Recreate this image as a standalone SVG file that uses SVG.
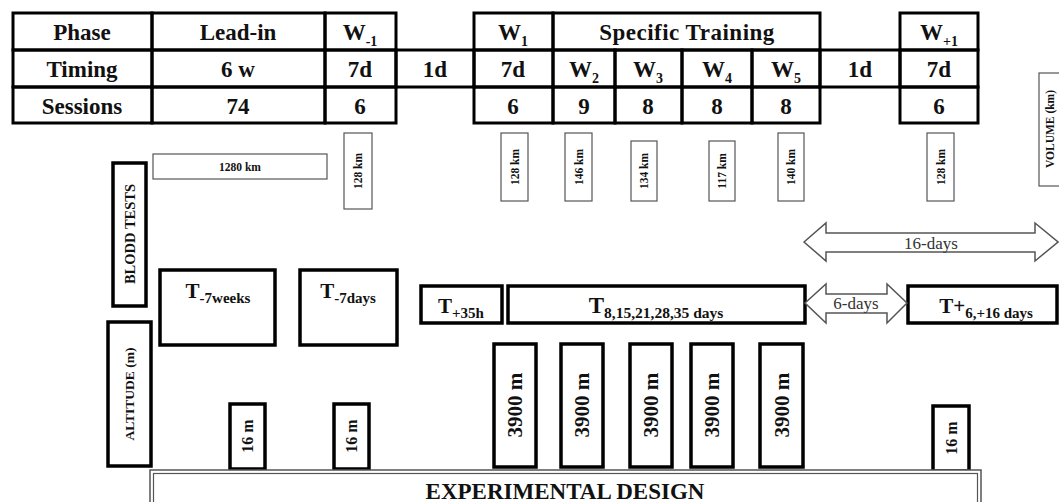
<svg xmlns="http://www.w3.org/2000/svg" width="1059" height="502" viewBox="0 0 1059 502">
<style>
.cell{fill:none;stroke:#000;stroke-width:3}
.tb{font-family:"Liberation Serif","Times New Roman",serif;font-weight:bold;font-size:23px;text-anchor:middle;fill:#111}
.vol{fill:#fff;stroke:#555;stroke-width:1.2}
.vt{font-family:"Liberation Serif","Times New Roman",serif;font-weight:bold;font-size:11.5px;text-anchor:middle;fill:#111}
.box{fill:#fff;stroke:#000;stroke-width:3.5}
.lbl{font-family:"Liberation Serif","Times New Roman",serif;font-weight:bold;text-anchor:middle;fill:#111}
.arrow{fill:#fff;stroke:#555;stroke-width:1.5}
.at{font-family:"Liberation Serif","Times New Roman",serif;font-size:17px;text-anchor:middle;fill:#333}
</style>
<rect width="1059" height="502" fill="#fff"/>

<g id="table">
  <rect class="cell" x="13" y="13" width="139" height="37"/>
  <rect class="cell" x="152" y="13" width="173" height="37"/>
  <rect class="cell" x="325" y="13" width="71" height="37"/>
  <rect class="cell" x="474" y="13" width="79" height="37"/>
  <rect class="cell" x="553" y="13" width="267" height="37"/>
  <rect class="cell" x="900" y="13" width="78" height="37"/>

  <rect class="cell" x="13" y="50" width="139" height="37"/>
  <rect class="cell" x="152" y="50" width="173" height="37"/>
  <rect class="cell" x="325" y="50" width="71" height="37"/>
  <rect class="cell" x="396" y="50" width="78" height="37"/>
  <rect class="cell" x="474" y="50" width="79" height="37"/>
  <rect class="cell" x="553" y="50" width="62" height="37"/>
  <rect class="cell" x="615" y="50" width="67" height="37"/>
  <rect class="cell" x="682" y="50" width="70" height="37"/>
  <rect class="cell" x="752" y="50" width="68" height="37"/>
  <rect class="cell" x="820" y="50" width="80" height="37"/>
  <rect class="cell" x="900" y="50" width="78" height="37"/>

  <rect class="cell" x="13" y="87" width="139" height="36"/>
  <rect class="cell" x="152" y="87" width="173" height="36"/>
  <rect class="cell" x="325" y="87" width="71" height="36"/>
  <rect class="cell" x="474" y="87" width="79" height="36"/>
  <rect class="cell" x="553" y="87" width="62" height="36"/>
  <rect class="cell" x="615" y="87" width="67" height="36"/>
  <rect class="cell" x="682" y="87" width="70" height="36"/>
  <rect class="cell" x="752" y="87" width="68" height="36"/>
  <rect class="cell" x="900" y="87" width="78" height="36"/>

  <text class="tb" x="82" y="40">Phase</text>
  <text class="tb" x="238" y="40">Lead-in</text>
  <text class="tb" x="360" y="40">W<tspan font-size="14" dy="6">-1</tspan></text>
  <text class="tb" x="513" y="40">W<tspan font-size="14" dy="6">1</tspan></text>
  <text class="tb" x="687" y="40" letter-spacing="0.5">Specific Training</text>
  <text class="tb" x="939" y="40">W<tspan font-size="14" dy="6">+1</tspan></text>

  <text class="tb" x="82" y="77">Timing</text>
  <text class="tb" x="238" y="77">6 w</text>
  <text class="tb" x="360" y="77">7d</text>
  <text class="tb" x="435" y="77">1d</text>
  <text class="tb" x="513" y="77">7d</text>
  <text class="tb" x="584" y="77">W<tspan font-size="14" dy="6">2</tspan></text>
  <text class="tb" x="648" y="77">W<tspan font-size="14" dy="6">3</tspan></text>
  <text class="tb" x="717" y="77">W<tspan font-size="14" dy="6">4</tspan></text>
  <text class="tb" x="786" y="77">W<tspan font-size="14" dy="6">5</tspan></text>
  <text class="tb" x="860" y="77">1d</text>
  <text class="tb" x="939" y="77">7d</text>

  <text class="tb" x="82" y="114">Sessions</text>
  <text class="tb" x="238" y="114">74</text>
  <text class="tb" x="360" y="114">6</text>
  <text class="tb" x="513" y="114">6</text>
  <text class="tb" x="584" y="114">9</text>
  <text class="tb" x="648" y="114">8</text>
  <text class="tb" x="717" y="114">8</text>
  <text class="tb" x="786" y="114">8</text>
  <text class="tb" x="939" y="114">6</text>
</g>

<g id="volume">
  <rect class="vol" x="153" y="154" width="174" height="25"/>
  <text class="vt" x="240" y="171">1280 km</text>
  <rect class="vol" x="344" y="133" width="28" height="76"/>
  <text class="vt" x="358" y="171" dy="0.35em" transform="rotate(-90 358 171)">128 km</text>
  <rect class="vol" x="501" y="133" width="27" height="68"/>
  <text class="vt" x="514.5" y="167" dy="0.35em" transform="rotate(-90 514.5 167)">128 km</text>
  <rect class="vol" x="565" y="133" width="27" height="68"/>
  <text class="vt" x="578.5" y="167" dy="0.35em" transform="rotate(-90 578.5 167)">146 km</text>
  <rect class="vol" x="631" y="141" width="26" height="60"/>
  <text class="vt" x="644" y="171" dy="0.35em" transform="rotate(-90 644 171)">134 km</text>
  <rect class="vol" x="709" y="141" width="26" height="60"/>
  <text class="vt" x="722" y="171" dy="0.35em" transform="rotate(-90 722 171)">117 km</text>
  <rect class="vol" x="778" y="133" width="26" height="68"/>
  <text class="vt" x="791" y="167" dy="0.35em" transform="rotate(-90 791 167)">140 km</text>
  <rect class="vol" x="927" y="133" width="27" height="68"/>
  <text class="vt" x="940.5" y="167" dy="0.35em" transform="rotate(-90 940.5 167)">128 km</text>
  <rect class="vol" x="1039" y="73" width="40" height="113"/>
  <text class="vt" x="1050" y="129" dy="0.35em" font-size="12" transform="rotate(-90 1050 129)">VOLUME (km)</text>
</g>

<g id="blood-tests">
  <rect class="box" x="113" y="163" width="33" height="143"/>
  <text class="lbl" x="129.5" y="234" dy="0.35em" font-size="14.5" transform="rotate(-90 129.5 234)">BLODD TESTS</text>
</g>

<g id="t-7weeks">
  <rect class="box" x="160" y="270" width="115" height="75"/>
  <text class="lbl" x="218" y="298" font-size="21">T<tspan font-size="15" dy="5">-7weeks</tspan></text>
</g>
<g id="t-7days">
  <rect class="box" x="300" y="270" width="97" height="75"/>
  <text class="lbl" x="348" y="298" font-size="21">T<tspan font-size="15" dy="5">-7days</tspan></text>
</g>
<g id="t+35h">
  <rect class="box" x="421" y="286" width="81" height="37"/>
  <text class="lbl" x="461" y="313" font-size="21">T<tspan font-size="15" dy="5">+35h</tspan></text>
</g>
<g id="t-weekly">
  <rect class="box" x="508" y="286" width="297" height="37"/>
  <text class="lbl" x="656" y="313" font-size="23">T<tspan font-size="15.5" dy="5">8,15,21,28,35  days</tspan></text>
</g>
<g id="t+6-16">
  <rect class="box" x="908" y="286" width="149" height="37"/>
  <text class="lbl" x="986" y="313" font-size="21">T+<tspan font-size="15" dy="5">6,+16 days</tspan></text>
</g>

<g id="altitude">
  <rect class="box" x="108" y="322" width="43" height="144"/>
  <text class="lbl" x="129.5" y="394" dy="0.35em" font-size="13.5" transform="rotate(-90 129.5 394)">ALTITUDE (m)</text>
</g>

<g id="alt-16m-1">
  <rect class="box" x="230" y="404" width="35" height="65"/>
  <text class="lbl" x="247.5" y="436" dy="0.35em" font-size="16" transform="rotate(-90 247.5 436)">16 m</text>
</g>
<g id="alt-16m-2">
  <rect class="box" x="334" y="404" width="35" height="65"/>
  <text class="lbl" x="351.5" y="436" dy="0.35em" font-size="16" transform="rotate(-90 351.5 436)">16 m</text>
</g>
<g id="alt-3900-1">
  <rect class="box" x="494" y="344" width="42" height="123"/>
  <text class="lbl" x="515" y="405" dy="0.35em" font-size="21" transform="rotate(-90 515 405)">3900 m</text>
</g>
<g id="alt-3900-2">
  <rect class="box" x="561" y="344" width="42" height="123"/>
  <text class="lbl" x="582" y="405" dy="0.35em" font-size="21" transform="rotate(-90 582 405)">3900 m</text>
</g>
<g id="alt-3900-3">
  <rect class="box" x="630" y="344" width="42" height="123"/>
  <text class="lbl" x="651" y="405" dy="0.35em" font-size="21" transform="rotate(-90 651 405)">3900 m</text>
</g>
<g id="alt-3900-4">
  <rect class="box" x="691" y="344" width="42" height="123"/>
  <text class="lbl" x="712" y="405" dy="0.35em" font-size="21" transform="rotate(-90 712 405)">3900 m</text>
</g>
<g id="alt-3900-5">
  <rect class="box" x="760" y="344" width="43" height="123"/>
  <text class="lbl" x="781.5" y="405" dy="0.35em" font-size="21" transform="rotate(-90 781.5 405)">3900 m</text>
</g>
<g id="alt-16m-3">
  <rect class="box" x="933" y="406" width="36" height="65"/>
  <text class="lbl" x="951" y="438" dy="0.35em" font-size="16" transform="rotate(-90 951 438)">16 m</text>
</g>

<g id="experimental-design">
  <rect x="150" y="470" width="831" height="50" fill="#fff" stroke="#555" stroke-width="1.5"/>
  <rect x="153.5" y="473.5" width="824" height="50" fill="none" stroke="#555" stroke-width="1.2"/>
  <text class="lbl" x="565" y="499" font-size="23">EXPERIMENTAL DESIGN</text>
</g>

<g id="connectors">
  <polygon class="arrow" points="804,242 826,223 826,233 1035,233 1035,223 1058,242 1035,261 1035,252 826,252 826,261"/>
  <text class="at" x="931" y="249">16-days</text>
  <polygon class="arrow" points="805,303 826,284 826,294 887,294 887,284 907,303 887,323 887,313 826,313 826,323"/>
  <text class="at" x="856" y="309">6-days</text>
</g>
</svg>
